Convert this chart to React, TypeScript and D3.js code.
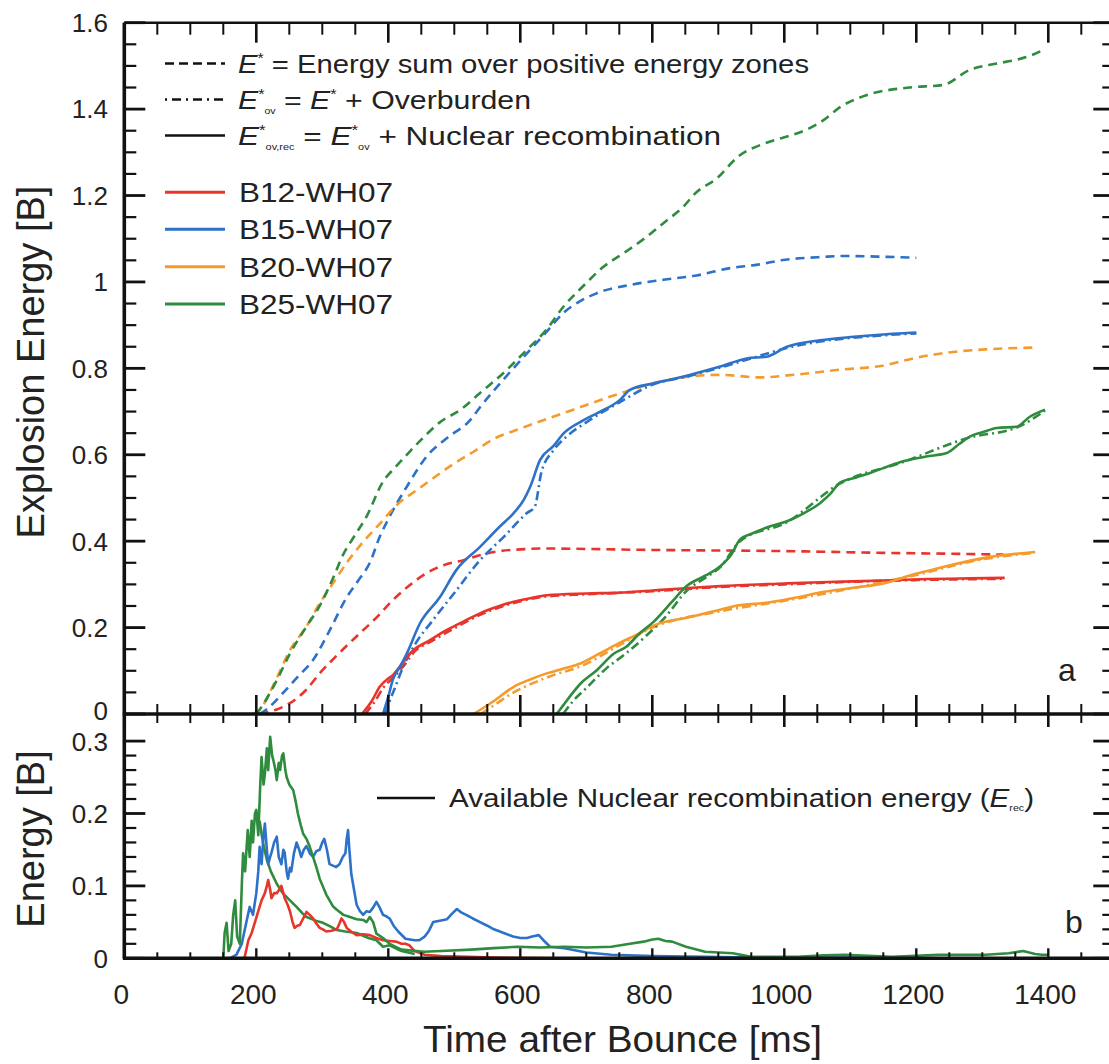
import React from "react";
import * as d3 from "d3";

type P = [number, number];

// ---------- Top panel (explosion energy, B) ----------
const red_Estar: P[] = [[205,0],[230,0.01],[251,0.025],[275,0.055],[296,0.094],[325,0.14],[357,0.187],[380,0.22],[407,0.264],[430,0.295],[458,0.326],[485,0.345],[514,0.356],[540,0.368],[564,0.376],[600,0.381],[640,0.383],[700,0.382],[781,0.38],[850,0.379],[1004,0.377],[1150,0.373],[1250,0.371],[1332,0.369]];
const red_Eov: P[] = [[365,0],[380,0.03],[392,0.06],[410,0.088],[425,0.115],[440,0.145],[465,0.168],[490,0.19],[540,0.23],[590,0.257],[640,0.272],[700,0.277],[800,0.284],[900,0.294],[1000,0.3],[1100,0.306],[1200,0.31],[1334,0.313]];
const red_Erec: P[] = [[360,0],[375,0.03],[387,0.063],[400,0.082],[407,0.09],[420,0.115],[438,0.148],[460,0.168],[488,0.194],[515,0.215],[539,0.233],[565,0.248],[590,0.26],[615,0.268],[640,0.275],[700,0.279],[751,0.281],[800,0.286],[850,0.291],[903,0.296],[1000,0.302],[1054,0.305],[1150,0.309],[1206,0.312],[1280,0.314],[1334,0.315]];

const blue_Estar: P[] = [[205,0],[215,0.01],[240,0.048],[262,0.085],[286,0.125],[310,0.19],[337,0.27],[355,0.31],[372,0.35],[387,0.41],[402,0.457],[428,0.526],[458,0.596],[490,0.64],[524,0.68],[539,0.71],[575,0.775],[615,0.843],[640,0.885],[665,0.928],[690,0.955],[716,0.974],[766,0.993],[817,1.005],[867,1.015],[918,1.032],[960,1.04],[995,1.05],[1060,1.058],[1092,1.06],[1156,1.058],[1200,1.056]];
const blue_Eov: P[] = [[395,0],[402,0.03],[410,0.06],[420,0.1],[440,0.16],[468,0.218],[500,0.28],[539,0.356],[575,0.41],[610,0.465],[622,0.48],[632,0.56],[650,0.61],[670,0.642],[700,0.675],[751,0.722],[800,0.762],[852,0.781],[903,0.802],[943,0.82],[1004,0.847],[1054,0.862],[1105,0.871],[1155,0.877],[1200,0.881]];
const blue_Erec: P[] = [[392,0],[400,0.04],[407,0.08],[418,0.11],[428,0.14],[448,0.21],[478,0.27],[503,0.333],[539,0.387],[569,0.434],[590,0.465],[605,0.495],[615,0.526],[630,0.588],[650,0.62],[666,0.65],[696,0.68],[716,0.696],[751,0.727],[766,0.75],[801,0.765],[830,0.775],[852,0.783],[903,0.804],[943,0.823],[973,0.827],[1004,0.85],[1054,0.865],[1105,0.873],[1155,0.879],[1200,0.883]];

const orange_Estar: P[] = [[195,0],[205,0.01],[230,0.08],[251,0.148],[275,0.2],[296,0.256],[315,0.3],[337,0.35],[360,0.395],[387,0.44],[413,0.484],[440,0.515],[463,0.54],[495,0.575],[529,0.607],[564,0.64],[590,0.655],[620,0.672],[665,0.696],[700,0.715],[751,0.742],[801,0.765],[852,0.78],[903,0.785],[963,0.779],[1014,0.785],[1079,0.796],[1155,0.808],[1195,0.823],[1256,0.838],[1306,0.844],[1380,0.848]];
const orange_Eov: P[] = [[540,0],[560,0.02],[590,0.05],[620,0.072],[650,0.09],[691,0.11],[751,0.16],[800,0.2],[900,0.237],[1000,0.262],[1100,0.29],[1200,0.322],[1300,0.358],[1380,0.373]];
const orange_Erec: P[] = [[529,0],[545,0.015],[560,0.03],[590,0.063],[615,0.08],[640,0.094],[665,0.105],[691,0.117],[720,0.14],[751,0.165],[781,0.187],[801,0.204],[852,0.223],[900,0.24],[925,0.25],[976,0.258],[1020,0.27],[1054,0.281],[1105,0.292],[1155,0.304],[1195,0.323],[1230,0.336],[1256,0.346],[1306,0.362],[1340,0.369],[1380,0.375]];

const green_Estar: P[] = [[200,0],[205,0.01],[230,0.075],[251,0.14],[275,0.2],[296,0.25],[315,0.31],[332,0.37],[350,0.415],[367,0.457],[392,0.538],[410,0.57],[428,0.6],[450,0.635],[478,0.675],[510,0.705],[539,0.743],[575,0.79],[610,0.843],[640,0.89],[665,0.942],[695,0.99],[726,1.035],[760,1.07],[791,1.104],[820,1.14],[847,1.174],[865,1.205],[898,1.24],[930,1.29],[969,1.32],[1000,1.335],[1030,1.35],[1060,1.375],[1085,1.405],[1120,1.43],[1189,1.45],[1241,1.456],[1280,1.49],[1320,1.505],[1351,1.514],[1375,1.525],[1396,1.54]];
const green_Eov: P[] = [[665,0],[680,0.03],[700,0.06],[730,0.105],[760,0.14],[790,0.18],[820,0.225],[852,0.285],[880,0.315],[903,0.34],[933,0.4],[1004,0.444],[1084,0.533],[1180,0.583],[1281,0.64],[1352,0.663],[1395,0.702]];
const green_Erec: P[] = [[655,0],[665,0.02],[680,0.05],[691,0.07],[715,0.1],[742,0.14],[760,0.155],[781,0.187],[801,0.212],[830,0.26],[852,0.296],[880,0.32],[903,0.342],[920,0.37],[933,0.404],[953,0.419],[980,0.435],[1004,0.446],[1030,0.465],[1054,0.488],[1070,0.51],[1084,0.535],[1110,0.548],[1130,0.558],[1155,0.572],[1180,0.585],[1215,0.596],[1246,0.604],[1265,0.625],[1281,0.642],[1300,0.652],[1322,0.662],[1352,0.665],[1372,0.688],[1395,0.704]];

// ---------- Bottom panel (available recombination energy, B) ----------
const green_rec: P[] = [[150,0],[152,0.035],[155,0.049],[158,0.01],[162,0.02],[165,0.06],[168,0.08],[171,0.03],[175,0.02],[178,0.1],[180,0.145],[183,0.12],[187,0.177],[190,0.14],[193,0.19],[195,0.16],[198,0.2],[200,0.205],[203,0.17],[206,0.24],[208,0.278],[211,0.24],[213,0.255],[216,0.29],[218,0.26],[221,0.306],[224,0.28],[226,0.273],[229,0.26],[231,0.246],[234,0.27],[236,0.26],[239,0.28],[241,0.283],[244,0.26],[246,0.25],[250,0.24],[256,0.232],[260,0.215],[263,0.2],[267,0.185],[271,0.172],[276,0.165],[281,0.154],[286,0.14],[291,0.126],[296,0.11],[301,0.099],[306,0.088],[311,0.08],[316,0.072],[322,0.067],[332,0.06],[342,0.057],[352,0.054],[362,0.053],[367,0.05],[372,0.057],[377,0.05],[382,0.034],[392,0.028],[402,0.02],[420,0.012],[454,0.009],[480,0.01],[525,0.012],[560,0.014],[596,0.016],[630,0.015],[667,0.016],[700,0.015],[738,0.016],[766,0.02],[787,0.023],[800,0.026],[809,0.027],[820,0.024],[830,0.023],[851,0.016],[880,0.009],[922,0.007],[950,0.002],[1021,0.002],[1060,0.004],[1092,0.005],[1163,0.002],[1234,0.005],[1305,0.005],[1340,0.007],[1362,0.01],[1380,0.006],[1390,0.005],[1400,0.005]];
const green_rec2: P[] = [[205,0.19],[210,0.16],[216,0.136],[222,0.12],[231,0.103],[240,0.09],[251,0.08],[261,0.071],[270,0.062],[276,0.057],[290,0.052],[301,0.049],[312,0.044],[322,0.039],[335,0.037],[352,0.035],[370,0.028],[382,0.025],[392,0.016],[402,0.018],[420,0.01],[440,0.006]];
const blue_rec: P[] = [[160,0],[170,0.005],[178,0.02],[185,0.05],[190,0.071],[195,0.06],[200,0.09],[203,0.12],[205,0.154],[208,0.13],[211,0.17],[213,0.186],[216,0.15],[218,0.13],[221,0.14],[223,0.146],[227,0.16],[231,0.168],[234,0.14],[238,0.13],[241,0.15],[243,0.146],[246,0.12],[248,0.11],[251,0.125],[253,0.12],[257,0.145],[261,0.16],[265,0.15],[268,0.14],[272,0.15],[276,0.155],[281,0.145],[286,0.14],[291,0.148],[296,0.15],[300,0.16],[303,0.165],[307,0.15],[311,0.13],[316,0.128],[321,0.126],[326,0.13],[331,0.14],[335,0.145],[337,0.165],[339,0.177],[341,0.15],[344,0.116],[348,0.095],[352,0.074],[357,0.065],[362,0.06],[367,0.065],[372,0.064],[377,0.07],[382,0.078],[387,0.07],[392,0.06],[397,0.058],[402,0.055],[408,0.045],[415,0.037],[426,0.027],[440,0.025],[447,0.025],[455,0.03],[461,0.037],[468,0.05],[478,0.052],[489,0.054],[497,0.062],[504,0.068],[511,0.063],[518,0.06],[528,0.055],[539,0.05],[550,0.045],[560,0.04],[575,0.035],[589,0.03],[600,0.028],[610,0.028],[618,0.03],[628,0.032],[635,0.025],[645,0.016],[667,0.014],[700,0.008],[738,0.005],[800,0.003],[880,0.002],[950,0.001],[1050,0.001],[1200,0.001]];
const red_rec: P[] = [[175,0],[182,0],[188,0.025],[193,0.035],[198,0.05],[203,0.065],[208,0.08],[213,0.09],[216,0.1],[218,0.108],[221,0.095],[223,0.083],[227,0.09],[231,0.09],[235,0.095],[238,0.1],[241,0.09],[243,0.083],[247,0.075],[251,0.065],[255,0.05],[258,0.042],[262,0.045],[266,0.046],[271,0.055],[276,0.064],[281,0.06],[286,0.055],[291,0.048],[296,0.042],[301,0.04],[306,0.037],[314,0.038],[322,0.04],[326,0.048],[329,0.055],[333,0.05],[337,0.042],[345,0.036],[352,0.032],[362,0.033],[372,0.032],[382,0.028],[392,0.025],[402,0.024],[412,0.023],[420,0.02],[426,0.02],[432,0.018],[440,0.01],[455,0.005],[480,0.003],[520,0.002],[560,0.001],[650,0]];

// ---------- Labels ----------
const models = ["B12-WH07", "B15-WH07", "B20-WH07", "B25-WH07"];
const modelColors = ["#e8352c", "#2d72c8", "#f59a2c", "#2f8b3d"];
const xTickLabels = ["0", "200", "400", "600", "800", "1000", "1200", "1400"];
const yTopTickLabels = ["0", "0.2", "0.4", "0.6", "0.8", "1", "1.2", "1.4", "1.6"];
const yBotTickLabels = ["0", "0.1", "0.2", "0.3"];

const FONT = "'Liberation Sans', Arial, Helvetica, sans-serif";
const TXT = "#222";

export default function App() {
  const x = d3.scaleLinear().domain([0, 1500]).range([124.3, 1114.3]);
  const yT = d3.scaleLinear().domain([0, 1.6]).range([714, 22.7]);
  const yB = d3.scaleLinear().domain([0, 0.3]).range([958.3, 741.1]);

  const lineT = d3.line<P>().x(d => x(d[0])).y(d => yT(d[1])).curve(d3.curveMonotoneX);
  const lineB = d3.line<P>().x(d => x(d[0])).y(d => yB(d[1]));

  const DASH = "9,6";
  const DASHDOT = "9,4,2,4";
  const SW = 2.6;

  const topSeries: { d: P[]; c: string; dash?: string }[] = [
    { d: red_Estar, c: modelColors[0], dash: DASH },
    { d: blue_Estar, c: modelColors[1], dash: DASH },
    { d: orange_Estar, c: modelColors[2], dash: DASH },
    { d: green_Estar, c: modelColors[3], dash: DASH },
    { d: red_Eov, c: modelColors[0], dash: DASHDOT },
    { d: blue_Eov, c: modelColors[1], dash: DASHDOT },
    { d: orange_Eov, c: modelColors[2], dash: DASHDOT },
    { d: green_Eov, c: modelColors[3], dash: DASHDOT },
    { d: red_Erec, c: modelColors[0] },
    { d: blue_Erec, c: modelColors[1] },
    { d: orange_Erec, c: modelColors[2] },
    { d: green_Erec, c: modelColors[3] },
  ];
  const botSeries: { d: P[]; c: string }[] = [
    { d: green_rec2, c: modelColors[3] },
    { d: red_rec, c: modelColors[0] },
    { d: blue_rec, c: modelColors[1] },
    { d: green_rec, c: modelColors[3] },
  ];

  const xMajor = d3.range(0, 1501, 200);
  const xMinor = d3.range(0, 1501, 50).filter(v => v % 200 !== 0);
  const yTMajor = d3.range(0, 1.61, 0.2);
  const yTMinor = d3.range(0, 1.601, 0.05).filter(v => Math.abs(v / 0.2 - Math.round(v / 0.2)) > 0.01);
  const yBMajor = d3.range(0, 0.301, 0.1);
  const yBMinor = d3.range(0, 0.301, 0.02).filter(v => Math.abs(v / 0.1 - Math.round(v / 0.1)) > 0.01);

  const L = x.range()[0];
  const R = x.range()[1];
  const T = yT(1.6);
  const M = yT(0);
  const B = yB(0);

  const tickLines: JSX.Element[] = [];
  let k = 0;
  const tl = (x1: number, y1: number, x2: number, y2: number, w: number) =>
    tickLines.push(<line key={"t" + k++} x1={x1} y1={y1} x2={x2} y2={y2} stroke="#111" strokeWidth={w} />);

  xMajor.forEach(v => {
    const px = x(v);
    tl(px, T, px, T + 20, 2.6);
    tl(px, M - 19, px, M + 13, 2.6);
    tl(px, B - 10, px, B, 2.4);
  });
  xMinor.forEach(v => {
    const px = x(v);
    tl(px, T, px, T + 12, 2);
    tl(px, M - 10, px, M + 9, 2);
    tl(px, B - 6, px, B, 2);
  });
  yTMajor.forEach(v => {
    const py = yT(v);
    tl(L, py, L + 21, py, 2.8);
    tl(R, py, R - 21, py, 2.8);
  });
  yTMinor.forEach(v => {
    const py = yT(v);
    tl(L, py, L + 12, py, 2.2);
    tl(R, py, R - 12, py, 2.2);
  });
  yBMajor.forEach(v => {
    const py = yB(v);
    tl(L, py, L + 21, py, 2.8);
    tl(R, py, R - 21, py, 2.8);
  });
  yBMinor.forEach(v => {
    const py = yB(v);
    tl(L, py, L + 12, py, 2.2);
    tl(R, py, R - 12, py, 2.2);
  });

  const legY = [63.5, 99.5, 135.5];
  const modelLegY = [192.3, 229.3, 266.7, 304];

  return (
    <div style={{ position: "absolute", left: 0, top: 0 }}>
      <svg width={1109} height={1064} style={{ display: "block", background: "#fff" }} fontFamily={FONT}>
        <rect x={0} y={0} width={1109} height={1064} fill="#fff" />

        {/* data lines */}
        <g fill="none" strokeLinejoin="round">
          {topSeries.map((s, i) => (
            <path key={"ts" + i} d={lineT(s.d) || ""} stroke={s.c} strokeWidth={SW} strokeDasharray={s.dash} />
          ))}
          {botSeries.map((s, i) => (
            <path key={"bs" + i} d={lineB(s.d) || ""} stroke={s.c} strokeWidth={2.6} />
          ))}
        </g>

        {/* frame */}
        <g stroke="#111" fill="none">
          <line x1={L} y1={T} x2={L} y2={B} strokeWidth={3.6} />
          <line x1={R} y1={T} x2={R} y2={B} strokeWidth={3.6} />
          <line x1={L} y1={T} x2={R + 2} y2={T} strokeWidth={2.6} />
          <line x1={L - 1.5} y1={M} x2={R + 2} y2={M} strokeWidth={3.6} />
          <line x1={L - 1.5} y1={B} x2={R + 2} y2={B} strokeWidth={3.6} />
        </g>
        <g>{tickLines}</g>

        {/* tick labels */}
        <g fill={TXT}>
          {xTickLabels.map((t, i) => (
            <text key={"xl" + i} x={x(+t) - 3} y={1004} fontSize={28} textAnchor="middle">{t}</text>
          ))}
          {yTopTickLabels.map((t, i) => (
            <text key={"ytl" + i} x={108} y={yT(+t) - (i === 0 ? 3 : 0)} dy="0.36em" fontSize={26} textAnchor="end">{t}</text>
          ))}
          {yBotTickLabels.map((t, i) => (
            <text key={"ybl" + i} x={108} y={yB(+t) + (i === 3 ? 1 : 0)} dy="0.36em" fontSize={26} textAnchor="end">{t}</text>
          ))}
        </g>

        {/* axis titles */}
        <text x={423} y={1052} fontSize={37} fill={TXT} textLength={399} lengthAdjust="spacingAndGlyphs">Time after Bounce [ms]</text>
        <text transform="translate(44,362) rotate(-90)" fontSize={38} fill={TXT} textAnchor="middle">Explosion Energy [B]</text>
        <text transform="translate(44,839) rotate(-90)" fontSize={38} fill={TXT} textAnchor="middle">Energy [B]</text>

        {/* top legend: line styles */}
        <g stroke="#111" strokeWidth={2.6}>
          <line x1={165} y1={legY[0]} x2={225} y2={legY[0]} strokeDasharray="9,5" />
          <line x1={165} y1={legY[1]} x2={225} y2={legY[1]} strokeDasharray="2,5,9,5" />
          <line x1={165} y1={legY[2]} x2={225} y2={legY[2]} />
        </g>
        <g fill={TXT} fontSize={26}>
          <text x={238} y={legY[0] + 9} textLength={571} lengthAdjust="spacingAndGlyphs">
            <tspan fontStyle="italic">E</tspan>
            <tspan fontSize={14} dy={-10}>*</tspan>
            <tspan dy={10}>{" = Energy sum over positive energy zones"}</tspan>
          </text>
          <text x={238} y={legY[1] + 9} textLength={293} lengthAdjust="spacingAndGlyphs">
            <tspan fontStyle="italic">E</tspan>
            <tspan fontSize={14} dy={-10}>*</tspan>
            <tspan fontSize={9} dy={15}>ov</tspan>
            <tspan dy={-5}>{" = "}</tspan>
            <tspan fontStyle="italic">E</tspan>
            <tspan fontSize={14} dy={-10}>*</tspan>
            <tspan dy={10}>{" + Overburden"}</tspan>
          </text>
          <text x={238} y={legY[2] + 9} textLength={483} lengthAdjust="spacingAndGlyphs">
            <tspan fontStyle="italic">E</tspan>
            <tspan fontSize={14} dy={-10}>*</tspan>
            <tspan fontSize={9} dy={15}>ov,rec</tspan>
            <tspan dy={-5}>{" = "}</tspan>
            <tspan fontStyle="italic">E</tspan>
            <tspan fontSize={14} dy={-10}>*</tspan>
            <tspan fontSize={9} dy={15}>ov</tspan>
            <tspan dy={-5}>{" + Nuclear recombination"}</tspan>
          </text>
        </g>

        {/* model legend */}
        {models.map((m, i) => (
          <g key={"ml" + i}>
            <line x1={165} y1={modelLegY[i]} x2={225} y2={modelLegY[i]} stroke={modelColors[i]} strokeWidth={3} />
            <text x={239} y={modelLegY[i] + 10} fontSize={28} fill={TXT} textLength={154} lengthAdjust="spacingAndGlyphs">{m}</text>
          </g>
        ))}

        {/* bottom legend */}
        <line x1={377} y1={798} x2={435} y2={798} stroke="#111" strokeWidth={2.6} />
        <text x={449} y={807} fontSize={25} fill={TXT} textLength={585} lengthAdjust="spacingAndGlyphs">
          <tspan>{"Available Nuclear recombination energy ("}</tspan>
          <tspan fontStyle="italic">E</tspan>
          <tspan fontSize={9} dy={4}>rec</tspan>
          <tspan dy={-4}>)</tspan>
        </text>

        {/* panel labels */}
        <text x={1067} y={681} fontSize={32} fill={TXT} textAnchor="middle">a</text>
        <text x={1074} y={933} fontSize={32} fill={TXT} textAnchor="middle">b</text>
      </svg>
    </div>
  );
}
